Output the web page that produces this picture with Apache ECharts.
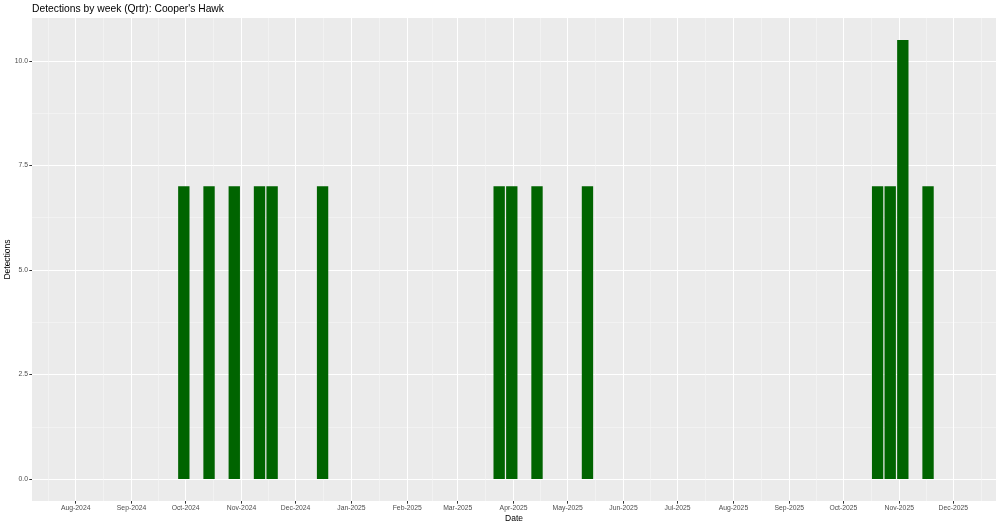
<!DOCTYPE html>
<html>
<head>
<meta charset="utf-8">
<script src="https://cdn.jsdelivr.net/npm/echarts@6/dist/echarts.min.js"></script>
<style>
html,body{margin:0;padding:0;background:#fff;}
#chart{width:1000px;height:526px;}
</style>
</head>
<body>
<div id="chart"></div>
<script>
// ---- data ----
var titleText = "Detections by week (Qrtr): Cooper's Hawk";
var xAxisTitle = "Date";
var yAxisTitle = "Detections";
var weekStarts = ['2024-09-30','2024-10-14','2024-10-28','2024-11-11','2024-11-18','2024-12-16',
                  '2025-03-24','2025-03-31','2025-04-14','2025-05-12',
                  '2025-10-20','2025-10-27','2025-11-03','2025-11-17'];
var detections = [7,7,7,7,7,7, 7,7,7,7, 7,7,10.5,7];
var monthTicks = ['2024-08-01','2024-09-01','2024-10-01','2024-11-01','2024-12-01',
                  '2025-01-01','2025-02-01','2025-03-01','2025-04-01','2025-05-01','2025-06-01',
                  '2025-07-01','2025-08-01','2025-09-01','2025-10-01','2025-11-01','2025-12-01'];
var yTicks = [0, 2.5, 5, 7.5, 10];
var xRange = ['2024-07-07T18:00:00Z', '2025-12-24T17:00:00Z'];
var yRange = [-0.525, 11.025];

// ---- helpers ----
var DAY = 86400000;
function ts(s){ return s.length === 10 ? Date.parse(s + 'T00:00:00Z') : Date.parse(s); }
var monNames = ['Jan','Feb','Mar','Apr','May','Jun','Jul','Aug','Sep','Oct','Nov','Dec'];
function fmtMonth(v){ var d = new Date(v); return monNames[d.getUTCMonth()] + '-' + d.getUTCFullYear(); }

var xMin = ts(xRange[0]), xMax = ts(xRange[1]);
var majorX = monthTicks.map(ts);
var firstD = new Date(majorX[0]);
var lastD = new Date(majorX[majorX.length-1]);
var ext = [Date.UTC(firstD.getUTCFullYear(), firstD.getUTCMonth()-1, 1)].concat(majorX,
          [Date.UTC(lastD.getUTCFullYear(), lastD.getUTCMonth()+1, 1)]);
var minorX = [];
for (var i = 0; i < ext.length-1; i++) {
  var m = (ext[i] + ext[i+1]) / 2;
  if (m >= xMin && m <= xMax) minorX.push(m);
}
var minorY = [];
for (var j = 0; j < yTicks.length-1; j++) minorY.push((yTicks[j] + yTicks[j+1]) / 2);

var gridL = 32, gridT = 18, gridW = 964, gridH = 483;
var pxPerDay = gridW / ((xMax - xMin) / DAY);
var barW = 0.9 * 7 * pxPerDay;

var seriesData = weekStarts.map(function(d, k){ return [ts(d), detections[k]]; });

var FONT = 'Liberation Sans, Arial, sans-serif';
var chart = echarts.init(document.getElementById('chart'), null, {renderer: 'canvas'});
chart.setOption({
  animation: false,
  backgroundColor: '#ffffff',
  title: {
    text: titleText, left: gridL, top: 4, padding: 0,
    textStyle: {fontFamily: FONT, fontSize: 10.3, fontWeight: 'normal', color: '#000000'}
  },
  grid: {left: gridL, top: gridT, width: gridW, height: gridH, show: true,
         backgroundColor: '#EBEBEB', borderWidth: 0, containLabel: false, outerBoundsMode: 'none'},
  xAxis: [{
    type: 'value', min: xMin, max: xMax, position: 'bottom',
    name: xAxisTitle, nameLocation: 'middle', nameGap: 13, nameMoveOverlap: false,
    nameTextStyle: {fontFamily: FONT, fontSize: 8.5, color: '#000000'},
    axisLine: {show: false, onZero: false},
    axisTick: {show: true, length: 2.7, customValues: majorX, lineStyle: {color: '#333333', width: 1}},
    axisLabel: {show: true, customValues: majorX, formatter: fmtMonth, margin: 3.5,
                fontFamily: FONT, fontSize: 6.8, color: '#4D4D4D'},
    splitLine: {show: true, lineStyle: {color: '#FFFFFF', width: 1}}
  }, {
    type: 'value', min: xMin, max: xMax, position: 'top',
    axisLine: {show: false, onZero: false},
    axisTick: {show: false, customValues: minorX},
    axisLabel: {show: false, customValues: minorX},
    splitLine: {show: true, lineStyle: {color: '#F6F6F6', width: 0.6}}
  }],
  yAxis: [{
    type: 'value', min: yRange[0], max: yRange[1], position: 'left',
    name: yAxisTitle, nameLocation: 'middle', nameGap: 19.5, nameRotate: 90, nameMoveOverlap: false,
    nameTextStyle: {fontFamily: FONT, fontSize: 8.5, color: '#000000'},
    axisLine: {show: false, onZero: false},
    axisTick: {show: true, length: 2.7, customValues: yTicks, lineStyle: {color: '#333333', width: 1}},
    axisLabel: {show: true, customValues: yTicks, margin: 4,
                formatter: function(v){ return v.toFixed(1); },
                fontFamily: FONT, fontSize: 6.8, color: '#4D4D4D'},
    splitLine: {show: true, lineStyle: {color: '#FFFFFF', width: 1}}
  }, {
    type: 'value', min: yRange[0], max: yRange[1], position: 'right',
    axisLine: {show: false, onZero: false},
    axisTick: {show: false, customValues: minorY},
    axisLabel: {show: false, customValues: minorY},
    splitLine: {show: true, lineStyle: {color: '#F6F6F6', width: 0.6}}
  }],
  series: [{
    type: 'bar', xAxisIndex: 0, yAxisIndex: 0,
    data: seriesData, barWidth: barW,
    itemStyle: {color: '#006400'}
  }]
});
</script>
</body>
</html>
